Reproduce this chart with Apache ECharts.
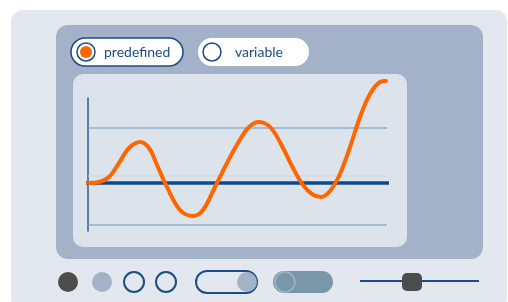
<!DOCTYPE html>
<html>
<head>
<meta charset="utf-8">
<script src="https://cdn.jsdelivr.net/npm/echarts@6/dist/echarts.min.js"></script>
<style>
  html, body { margin: 0; padding: 0; background: #fff; }
  #chart { width: 508px; height: 302px; }
</style>
</head>
<body>
<div id="chart"></div>
<script>
// curve: x along the plot, y above the thick base line
const curveX = [0, 11, 21, 31, 41, 52, 61, 69, 79, 92, 105, 115, 127, 139, 150, 161, 171, 183, 195, 205, 215, 224, 233, 242, 252, 262, 272, 282, 292, 298];
const curveY = [0, 1, 6, 20, 35, 41, 35, 18, -4, -27, -33, -27, -4, 20, 40, 56, 61, 55, 35, 15, -2, -11, -14, -8, 9, 36, 66, 89, 101, 102];
// horizontal guide lines (value, from, to)
const guideValues = [55, 7, 0, -42];
const guideFrom = [-4, 0, -6, -4];
const guideTo = [299, 299, 301, 299];
const radioLabels = ['predefined', 'variable'];

const navy = '#1b4c87';
const curve = curveX.map((x, i) => [x, curveY[i]]);
const guideStyles = [
  { color: '#7491b6', width: 1.2 },
  { color: '#cdd6e2', width: 1.2 },
  { color: '#0b4a8c', width: 3.5 },
  { color: '#7491b6', width: 1.2 }
];

const guideSeries = guideValues.map((v, i) => ({
  type: 'line', z: 1, silent: true, showSymbol: false, clip: false,
  data: [[guideFrom[i], v], [guideTo[i], v]],
  lineStyle: guideStyles[i]
}));

const myChart = echarts.init(document.getElementById('chart'));
myChart.setOption({
  animation: false,
  backgroundColor: '#ffffff',
  grid: { left: 88, right: 121, top: 98, bottom: 71 },
  xAxis: { type: 'value', min: 0, max: 299, show: false },
  yAxis: {
    type: 'value', min: -48, max: 85,
    axisLine: { show: true, lineStyle: { color: '#2c5b93', width: 1.5 } },
    axisTick: { show: false }, axisLabel: { show: false }, splitLine: { show: false }
  },
  graphic: [
    // panels
    { type: 'rect', z: -10, shape: { x: 11, y: 10, width: 496, height: 300, r: 12 }, style: { fill: '#e3e8ef' } },
    { type: 'rect', z: -9, shape: { x: 56, y: 25, width: 427, height: 234, r: 12 }, style: { fill: '#a3b2c9' } },
    { type: 'rect', z: -8, shape: { x: 73, y: 74, width: 334, height: 173, r: 10 }, style: { fill: '#dde3eb' } },
    // radio pills
    { type: 'rect', z: -7, shape: { x: 71, y: 38, width: 112, height: 28, r: 14 }, style: { fill: '#fff', stroke: navy, lineWidth: 1.5 } },
    { type: 'circle', z: -6, shape: { cx: 86, cy: 52, r: 9 }, style: { fill: '#fff', stroke: navy, lineWidth: 1.5 } },
    { type: 'circle', z: -5, shape: { cx: 86, cy: 52, r: 6 }, style: { fill: '#ff6600' } },
    { type: 'text', z: -5, style: { x: 104, y: 52, text: radioLabels[0], fill: navy, font: '14px Lato', verticalAlign: 'middle' } },
    { type: 'rect', z: -7, shape: { x: 198, y: 38, width: 111, height: 28, r: 14 }, style: { fill: '#fff' } },
    { type: 'circle', z: -6, shape: { cx: 212, cy: 52, r: 9 }, style: { fill: '#fff', stroke: navy, lineWidth: 1.5 } },
    { type: 'text', z: -5, style: { x: 235, y: 52, text: radioLabels[1], fill: navy, font: '14px Lato', verticalAlign: 'middle' } },
    // bottom controls
    { type: 'circle', shape: { cx: 68, cy: 282, r: 10 }, style: { fill: '#4d4d4d' } },
    { type: 'circle', shape: { cx: 102, cy: 282, r: 10 }, style: { fill: '#a3b2c9' } },
    { type: 'circle', shape: { cx: 134, cy: 282, r: 10 }, style: { fill: 'none', stroke: navy, lineWidth: 2 } },
    { type: 'circle', shape: { cx: 166, cy: 282, r: 10 }, style: { fill: 'none', stroke: navy, lineWidth: 2 } },
    { type: 'rect', shape: { x: 196, y: 271, width: 61, height: 22, r: 11 }, style: { fill: '#e3e8ef', stroke: navy, lineWidth: 2 } },
    { type: 'circle', shape: { cx: 247, cy: 282, r: 10 }, style: { fill: '#a3b2c9' } },
    { type: 'rect', shape: { x: 273, y: 271, width: 60, height: 22, r: 11 }, style: { fill: '#7a97a9' } },
    { type: 'circle', shape: { cx: 285, cy: 282, r: 10 }, style: { fill: '#7a97a9', stroke: '#a3b2c9', lineWidth: 1.5 } },
    { type: 'line', shape: { x1: 360, y1: 281, x2: 479, y2: 281 }, style: { stroke: navy, lineWidth: 2 } },
    { type: 'rect', shape: { x: 402, y: 273, width: 20, height: 18, r: 5 }, style: { fill: '#4d4d4d' } }
  ],
  series: guideSeries.concat([
    {
      type: 'line', z: 3, data: curve, smooth: 0.35,
      showSymbol: false, clip: false, silent: true,
      lineStyle: { color: '#ff6600', width: 4, cap: 'round', join: 'round' }
    }
  ])
});
</script>
</body>
</html>
